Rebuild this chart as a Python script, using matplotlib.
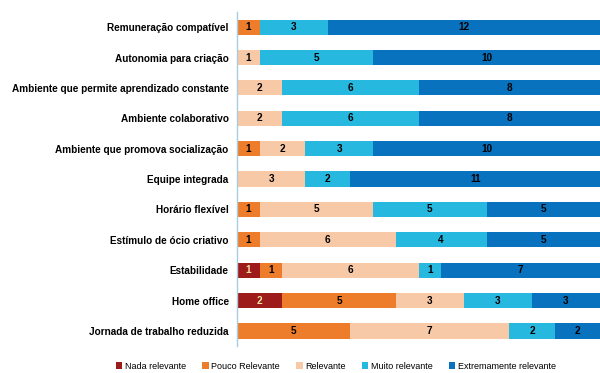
import matplotlib
matplotlib.use("Agg")
import matplotlib.pyplot as plt
import numpy as np

categories = ["Remuneração compatível", "Autonomia para criação",
              "Ambiente que permite aprendizado constante", "Ambiente colaborativo",
              "Ambiente que promova socialização", "Equipe integrada", "Horário flexível",
              "Estímulo de ócio criativo", "Estabilidade", "Home office",
              "Jornada de trabalho reduzida"]
series_names = ["Nada relevante", "Pouco Relevante", "Relevante", "Muito relevante",
                "Extremamente relevante"]
nada = [0, 0, 0, 0, 0, 0, 0, 0, 1, 2, 0]
pouco = [1, 0, 0, 0, 1, 0, 1, 1, 1, 5, 5]
relevante = [0, 1, 2, 2, 2, 3, 5, 6, 6, 3, 7]
muito = [3, 5, 6, 6, 3, 2, 5, 4, 1, 3, 2]
extremamente = [12, 10, 8, 8, 10, 11, 5, 5, 7, 3, 2]

colors = ["#9E1B1B", "#EE7D2B", "#F8C9A6", "#27B8DF", "#0872BE"]
text_colors = ["#F3E3A0", "black", "black", "black", "black"]

plt.rcParams['font.family'] = ['Liberation Sans', 'DejaVu Sans']

fig = plt.figure(figsize=(6, 3.73), dpi=100)
ax = fig.add_axes([0.395, 0.072, 0.605, 0.896])

data = [nada, pouco, relevante, muito, extremamente]
y = np.arange(len(categories))
left = np.zeros(len(categories))
for vals, name, c, tc in zip(data, series_names, colors, text_colors):
    vals = np.array(vals, dtype=float)
    ax.barh(y, vals, left=left, height=0.5, color=c, label=name, edgecolor='none')
    for yi, (l, v) in enumerate(zip(left, vals)):
        if v > 0:
            ax.text(l + v / 2, yi, f"{int(v)}", ha='center', va='center',
                    fontsize=7.2, fontweight='bold', color=tc)
    left += vals

ax.set_xlim(0, 16)
ax.set_ylim(len(categories) - 0.5, -0.5)
ax.set_yticks(y)
ax.set_yticklabels(categories, fontsize=7.2, fontweight='bold')
ax.tick_params(axis='y', length=0, pad=6)
ax.set_xticks([])
for s in ['top', 'right', 'bottom']:
    ax.spines[s].set_visible(False)
ax.spines['left'].set_color('#A9CCE0')
ax.spines['left'].set_linewidth(1)

handles, labels = ax.get_legend_handles_labels()
fig.legend(handles, labels, loc='center', bbox_to_anchor=(0.56, 0.018), ncol=5,
           frameon=False, fontsize=6.5, handlelength=0.7, handleheight=0.7,
           handletextpad=0.3, columnspacing=1.8)

fig.savefig("out.png", dpi=100)
